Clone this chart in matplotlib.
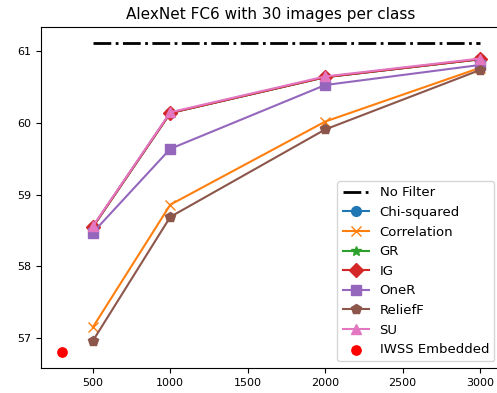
import numpy as np
import matplotlib
matplotlib.use('Agg')
import matplotlib.pyplot as plt

features = [500, 1000, 2000, 3000]
no_filter = 61.12

# accuracy per filter method
chi_squared = [58.55, 60.14, 60.64, 60.89]
correlation = [57.15, 58.86, 60.02, 60.77]
gr = [58.55, 60.14, 60.64, 60.89]
ig = [58.55, 60.14, 60.64, 60.89]
oner = [58.47, 59.64, 60.53, 60.81]
relieff = [56.96, 58.69, 59.91, 60.74]
su = [58.56, 60.15, 60.65, 60.90]

iwss_x = [300]
iwss_y = [56.80]

fig = plt.figure(figsize=(4.97, 3.93), dpi=100)
ax = fig.add_axes([41/497, 25/393, 460/497, 341/393])

ms = 7
ax.plot([features[0], features[-1]], [no_filter, no_filter], 'k-.', lw=2, label='No Filter')
ax.plot(features, chi_squared, marker='o', ms=ms, label='Chi-squared')
ax.plot(features, correlation, marker='x', ms=ms, label='Correlation')
ax.plot(features, gr, marker='*', ms=ms, label='GR')
ax.plot(features, ig, marker='D', ms=ms, label='IG')
ax.plot(features, oner, marker='s', ms=ms, label='OneR')
ax.plot(features, relieff, marker='p', ms=ms, label='ReliefF')
ax.plot(features, su, marker='^', ms=ms, label='SU')
ax.scatter(iwss_x, iwss_y, color='red', s=45, zorder=3, label='IWSS Embedded')

ax.set_xlim(165, 3135)
ax.set_ylim(56.58, 61.34)
ax.set_yticks([57, 58, 59, 60, 61])
ax.tick_params(labelsize=8)
ax.set_title('AlexNet FC6 with 30 images per class', fontsize=11)
ax.legend(loc='lower right', fontsize=9.5)

fig.savefig('out.png', dpi=100)
